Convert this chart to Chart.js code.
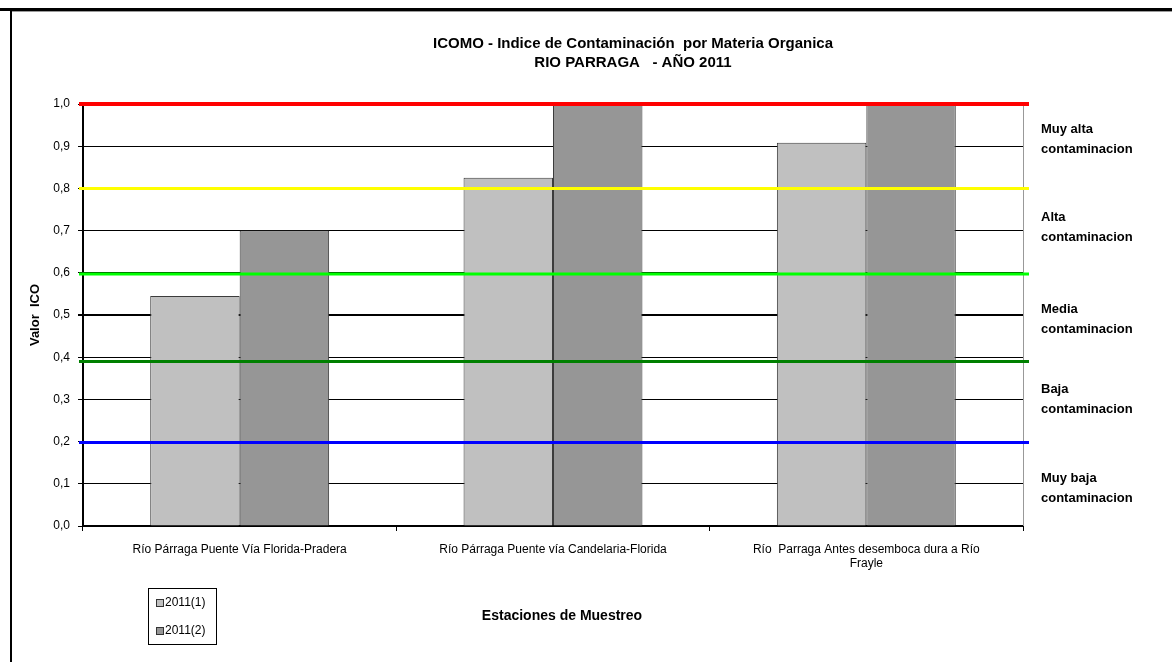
<!DOCTYPE html>
<html>
<head>
<meta charset="utf-8">
<script src="https://cdn.jsdelivr.net/npm/chart.js@4"></script>
<style>
  html, body { margin: 0; padding: 0; background: #fff; }
  #wrap { position: relative; width: 1172px; height: 662px; }
</style>
</head>
<body>
<div id="wrap"><canvas id="icoChart" width="1172" height="662"></canvas></div>
<script>
// datos
const estaciones = [
    'Río Párraga Puente Vía Florida-Pradera',
    'Río Párraga Puente vía Candelaria-Florida',
    ['Río  Parraga Antes desemboca dura a Río', 'Frayle']
];
const serie1 = [0.545, 0.825, 0.908];   // 2011(1)
const serie2 = [0.70, 1.0, 1.0];         // 2011(2)
const nombresSeries = ['2011(1)', '2011(2)'];

const yTicks = [0, 0.1, 0.2, 0.3, 0.4, 0.5, 0.6, 0.7, 0.8, 0.9, 1.0];

// limites de las clases de contaminacion
const niveles = [1.0, 0.8, 0.597, 0.39, 0.198];
const nivelesColor = ['#ff0000', '#ffff00', '#00ff00', '#008000', '#0000ff'];

// etiquetas de las bandas (a la derecha)
const bandas = [
    ['Muy alta', 'contaminacion'],
    ['Alta', 'contaminacion'],
    ['Media', 'contaminacion'],
    ['Baja', 'contaminacion'],
    ['Muy baja', 'contaminacion']
];
const bandasValor = [0.917, 0.707, 0.49, 0.3, 0.09];

const titulo = ['ICOMO - Indice de Contaminación  por Materia Organica', 'RIO PARRAGA   - AÑO 2011'];
const tituloX = 'Estaciones de Muestreo';

const FONT = '"Liberation Sans", Arial, sans-serif';

const extras = {
    id: 'extras',
    beforeDraw(chart) {
        const ctx = chart.ctx;
        ctx.save();
        ctx.fillStyle = '#fff';
        ctx.fillRect(0, 0, chart.width, chart.height);
        // marco
        ctx.fillStyle = '#000';
        ctx.fillRect(0, 8, chart.width, 3);
        ctx.fillStyle = '#9a9a9a';
        ctx.fillRect(12, 11, chart.width - 12, 1);
        ctx.fillStyle = '#000';
        ctx.fillRect(10, 8, 2, chart.height);
        ctx.restore();
    },
    afterDatasetsDraw(chart) {
        const {ctx, chartArea, scales: {y}} = chart;
        ctx.save();
        // borde derecho del area
        ctx.strokeStyle = '#999';
        ctx.lineWidth = 1;
        ctx.beginPath();
        ctx.moveTo(chartArea.right + 0.5, chartArea.top);
        ctx.lineTo(chartArea.right + 0.5, chartArea.bottom);
        ctx.stroke();
        // lineas de nivel
        niveles.forEach((v, i) => {
            const py = y.getPixelForValue(v);
            ctx.strokeStyle = nivelesColor[i];
            ctx.lineWidth = i === 0 ? 4 : 3;
            ctx.beginPath();
            ctx.moveTo(chartArea.left - 4, py);
            ctx.lineTo(chartArea.right + 6, py);
            ctx.stroke();
        });
        ctx.restore();
    },
    afterDraw(chart) {
        const {ctx, chartArea, scales: {y}} = chart;
        ctx.save();
        ctx.fillStyle = '#000';
        ctx.textBaseline = 'middle';

        // titulo
        ctx.textAlign = 'center';
        ctx.font = 'bold 15px ' + FONT;
        ctx.fillText(titulo[0], 633, 44);
        ctx.fillText(titulo[1], 633, 63);

        // titulo eje x
        ctx.font = 'bold 14px ' + FONT;
        ctx.fillText(tituloX, 562, 616);

        // bandas
        ctx.textAlign = 'left';
        ctx.font = 'bold 13px ' + FONT;
        bandas.forEach((lineas, i) => {
            const py = y.getPixelForValue(bandasValor[i]);
            lineas.forEach((t, j) => {
                ctx.fillText(t, chartArea.right + 18, py + (j - 0.5) * 20);
            });
        });

        // leyenda
        ctx.strokeStyle = '#000';
        ctx.lineWidth = 1;
        ctx.strokeRect(148.5, 588.5, 68, 56);
        ctx.font = '12px ' + FONT;
        chart.data.datasets.forEach((ds, i) => {
            const py = 603 + i * 28;
            ctx.fillStyle = ds.backgroundColor;
            ctx.fillRect(156, py - 4, 8, 8);
            ctx.strokeStyle = '#333';
            ctx.strokeRect(156.5, py - 3.5, 7, 7);
            ctx.fillStyle = '#000';
            ctx.fillText(ds.label, 165, py);
        });
        ctx.restore();
    }
};

const ctx = document.getElementById('icoChart').getContext('2d');
const icoChart = new Chart(ctx, {
    type: 'bar',
    data: {
        labels: estaciones,
        datasets: [{
            label: nombresSeries[0],
            data: serie1,
            backgroundColor: '#c0c0c0',
            borderColor: '#3c3c3c',
            borderWidth: 1,
            borderSkipped: 'bottom',
            categoryPercentage: 0.571,
            barPercentage: 1.0
        }, {
            label: nombresSeries[1],
            data: serie2,
            backgroundColor: '#969696',
            borderColor: '#3c3c3c',
            borderWidth: 1,
            borderSkipped: 'bottom',
            categoryPercentage: 0.571,
            barPercentage: 1.0
        }]
    },
    options: {
        responsive: false,
        animation: false,
        layout: {
            padding: { left: 20, right: 149, top: 104, bottom: 0 }
        },
        plugins: {
            legend: { display: false },
            title: { display: false },
            tooltip: { enabled: false }
        },
        scales: {
            x: {
                afterFit: (scale) => { scale.height = 136; },
                grid: {
                    drawOnChartArea: false,
                    drawTicks: true,
                    tickLength: 5,
                    color: '#000'
                },
                border: { color: '#000', width: 2 },
                ticks: {
                    color: '#000',
                    font: { family: FONT, size: 12 },
                    padding: 11,
                    maxRotation: 0,
                    autoSkip: false
                }
            },
            y: {
                min: 0,
                max: 1,
                afterFit: (scale) => { scale.width = 63; },
                afterBuildTicks: (scale) => {
                    scale.ticks = yTicks.map(v => ({ value: v }));
                },
                grid: {
                    color: '#000',
                    lineWidth: (c) => (c.tick && Math.abs(c.tick.value - 0.5) < 1e-6 ? 2 : 1),
                    tickLength: 5
                },
                border: { color: '#000', width: 2 },
                ticks: {
                    color: '#000',
                    font: { family: FONT, size: 12 },
                    padding: 8,
                    callback: (v) => Number(v).toFixed(1).replace('.', ',')
                },
                title: {
                    display: true,
                    text: 'Valor  ICO',
                    color: '#000',
                    font: { family: FONT, size: 13, weight: 'bold' },
                    padding: { top: 8, bottom: 0 }
                }
            }
        }
    },
    plugins: [extras]
});
</script>
</body>
</html>
